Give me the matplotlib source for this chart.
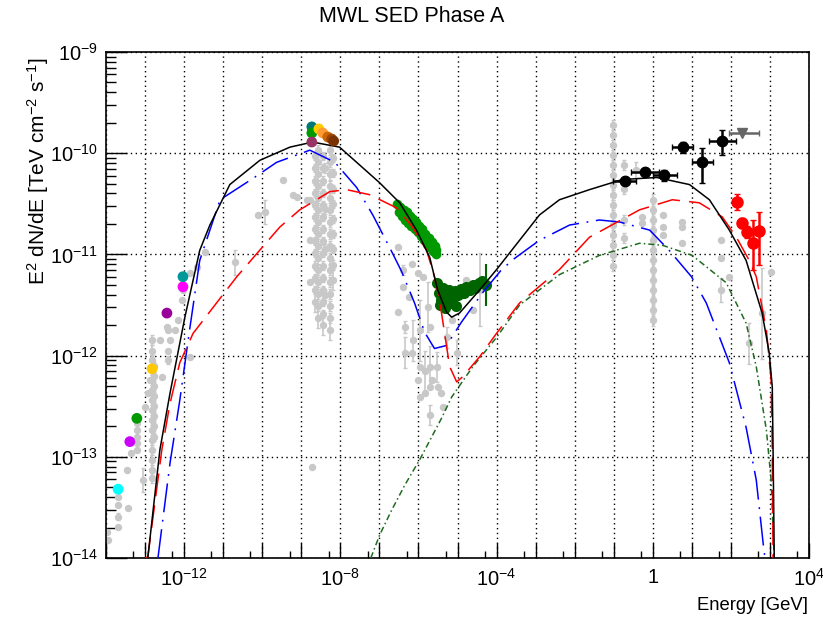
import numpy as np
import matplotlib
matplotlib.use('Agg')
import matplotlib.pyplot as plt
from matplotlib.ticker import FixedLocator, FuncFormatter, NullFormatter

plt.rcParams['font.family'] = 'Liberation Sans'
plt.rcParams['mathtext.fontset'] = 'custom'
plt.rcParams['mathtext.rm'] = 'Liberation Sans'
plt.rcParams['mathtext.it'] = 'Liberation Sans:italic'
plt.rcParams['mathtext.bf'] = 'Liberation Sans:bold'

# ---- model curves (log10 E [GeV], log10 E^2 dN/dE) ----
tot_logE = [-12.93, -12.62, -12.36, -11.98, -11.60, -11.34, -10.83, -10.06, -9.29, -8.71,
            -8.02, -7.0, -6.48, -6.05, -5.71, -5.51, -5.28, -5.15, -4.95, -4.43, -4.0,
            -3.41, -2.90, -2.39, -1.62, -0.78, 0.10, 0.94, 1.45, 1.96, 2.39, 2.80, 2.98,
            3.06, 3.08, 3.11]
tot_logF = [-14.0, -12.93, -12.37, -11.62, -10.96, -10.71, -10.31, -10.07, -9.94, -9.89,
            -9.94, -10.29, -10.49, -10.76, -11.03, -11.35, -11.57, -11.62, -11.58, -11.35,
            -11.15, -10.86, -10.61, -10.46, -10.36, -10.26, -10.24, -10.31, -10.46, -10.76,
            -11.06, -11.58, -11.97, -12.31, -12.93, -14.0]

red_logE = [-13.0, -12.93, -12.57, -12.36, -12.11, -11.77, -10.65, -9.55, -9.04, -8.27,
            -7.84, -7.25, -6.56, -6.15, -5.79, -5.59, -5.46, -5.33, -5.20, -5.02, -4.87,
            -4.43, -4.0, -3.41, -2.39, -1.62, -0.34, 0.50, 1.19, 1.78, 2.14, 2.47, 2.65,
            2.91, 3.03, 3.06, 3.08]
red_logF = [-14.0, -13.99, -12.93, -12.47, -12.07, -11.78, -11.22, -10.73, -10.56, -10.38,
            -10.36, -10.41, -10.54, -10.73, -10.96, -11.22, -11.45, -11.78, -12.11, -12.26,
            -12.21, -12.01, -11.78, -11.48, -11.15, -10.83, -10.56, -10.46, -10.49, -10.63,
            -10.83, -11.06, -11.22, -11.75, -12.24, -12.93, -14.0]

blue_logE = [-12.67, -12.36, -12.11, -11.85, -11.60, -11.08, -10.24, -9.63, -8.78, -8.14,
             -7.58, -7.17, -6.74, -6.43, -6.10, -5.84, -5.59, -5.28, -4.90, -4.36, -3.87,
             -3.54, -2.90, -2.13, -1.37, -0.85, -0.08, 0.42, 0.99, 1.37, 1.96, 2.39, 2.65,
             2.85, 2.88]
blue_logF = [-14.0, -13.06, -12.44, -11.72, -11.06, -10.46, -10.25, -10.09, -9.97, -10.09,
             -10.34, -10.61, -10.93, -11.17, -11.48, -11.77, -11.93, -11.90, -11.67, -11.38,
             -11.15, -11.04, -10.86, -10.71, -10.66, -10.68, -10.76, -10.96, -11.22, -11.48,
             -12.07, -12.71, -13.23, -13.94, -14.0]

green_logE = [-7.22, -6.99, -6.69, -6.35, -5.97, -5.41, -5.15, -4.61, -4.0, -3.41, -2.39,
              -1.37, -0.34, 0.25, 1.01, 1.88, 2.39, 2.65, 2.91, 3.03, 3.11]
green_logF = [-14.0, -13.77, -13.53, -13.28, -13.03, -12.62, -12.41, -12.11, -11.82, -11.50,
              -11.20, -11.01, -10.89, -10.91, -11.01, -11.28, -11.68, -12.11, -12.74,
              -13.23, -14.0]

# ---- archival data (grey): log10 E, log10 flux, error in dex ----
gray_logE = [-13.97, -13.95, -13.69, -13.69, -13.69, -13.69, -13.46, -13.44, -13.36, -13.21,
             -13.21, -13.21, -13.21, -13.21, -13.05, -13.0, -12.93, -12.87,
             -12.82, -12.82, -12.82, -12.82, -12.82, -12.82, -12.82, -12.82, -12.82, -12.82,
             -12.82, -12.82, -12.82, -12.82, -12.82,
             -12.62, -12.57, -12.44, -12.41, -12.36, -12.41, -12.41, -12.24, -12.16, -12.06,
             -12.03, -11.85, -11.67, -11.85, -11.47, -10.70,
             -9.93, -10.11, -9.47, -9.22, -9.12, -8.86, -8.73,
             -8.58, -8.58, -8.58, -8.58, -8.58, -8.58, -8.58, -8.58, -8.58, -8.58, -8.58,
             -8.58, -8.58, -8.58, -8.58,
             -8.27, -8.27, -8.27, -8.27, -8.27, -8.27, -8.27, -8.27, -8.27, -8.27, -8.27,
             -8.27, -8.27, -8.27, -8.27, -8.27,
             -8.40, -8.40, -8.40, -8.40, -8.78, -8.78, -8.78,
             -6.53, -6.40, -6.40, -6.53, -6.35, -6.35, -6.17, -6.23, -6.15, -6.17, -6.02,
             -5.97, -5.97, -5.89, -5.76, -5.71, -5.71, -5.66, -5.53, -5.51, -5.41, -5.28,
             -5.13, -5.02, -4.77, -4.61, -4.43, -6.02, -5.97, -5.84, -5.38, -5.71, -5.71,
             -5.84,
             -1.03, -1.03, -1.03, -1.03, -1.03, -1.03, -1.03, -1.03, -1.03, -1.03, -1.03,
             -1.03, -1.03, -1.03, -1.03,
             -0.73, -0.73, -0.73, -0.73,
             0.0, 0.0, 0.0, 0.0, 0.0, 0.0, 0.0, 0.0, 0.0, 0.0, 0.0, 0.0, 0.0,
             -0.27, -0.27, 0.25, 0.25, 0.25, 0.76, 0.76, 0.76, 1.75, 1.75, 1.75, 1.96, 2.47,
             2.80, 3.03, -0.42]
gray_logF = [-13.74, -13.82, -13.40, -13.48, -13.59, -13.69, -13.13, -13.51, -12.96, -12.93,
             -12.86, -12.80, -12.74, -12.67, -13.23, -12.51, -12.37, -12.24,
             -11.85, -11.95, -12.04, -12.14, -12.24, -12.34, -12.44, -12.54, -12.64, -12.74,
             -12.83, -12.93, -13.03, -13.13, -13.21,
             -11.85, -12.21, -11.72, -11.75, -11.85, -11.95, -12.04, -11.75, -11.65, -11.45,
             -11.35, -11.18, -11.12, -12.01, -10.98, -11.08,
             -10.58, -10.61, -10.26, -10.41, -10.43, -10.46, -13.10,
             -9.97, -10.09, -10.21, -10.32, -10.44, -10.56, -10.68, -10.80, -10.92, -11.04,
             -11.15, -11.27, -11.39, -11.51, -11.63,
             -9.97, -10.09, -10.21, -10.32, -10.44, -10.56, -10.68, -10.80, -10.92, -11.04,
             -11.15, -11.27, -11.39, -11.51, -11.63, -11.75,
             -10.15, -10.55, -10.95, -11.40, -10.46, -10.86, -11.27,
             -10.93, -11.15, -11.32, -11.57, -11.72, -11.97, -11.09, -11.42, -11.85, -11.97,
             -11.18, -11.75, -12.11, -11.22, -11.52, -11.72, -12.11, -12.24, -12.11, -12.31,
             -12.37, -11.82, -11.65, -11.97, -11.25, -11.55, -11.35, -12.24, -12.41, -12.37,
             -12.51, -12.31, -12.59, -12.15,
             -9.72, -9.82, -9.92, -10.02, -10.12, -10.22, -10.31, -10.41, -10.51, -10.61,
             -10.71, -10.81, -10.91, -11.01, -11.11,
             -10.12, -10.35, -10.66, -10.84,
             -10.46, -10.56, -10.66, -10.76, -10.86, -10.96, -11.06, -11.15, -11.25, -11.35,
             -11.45, -11.55, -11.65,
             -10.63, -10.69, -10.61, -10.73, -10.81, -10.68, -10.73, -10.89, -10.86, -11.04,
             -11.35, -11.22, -11.88, -11.58, -11.17, -10.17]
gray_err = [0, 0, 0, 0, 0.03, 0, 0, 0, 0, 0, 0, 0, 0, 0, 0.12, 0, 0, 0,
            0.05, 0.05, 0.05, 0.05, 0.05, 0.05, 0.05, 0.05, 0.05, 0.05, 0.05, 0.05, 0.05,
            0.05, 0.05,
            0, 0, 0, 0, 0, 0, 0.04, 0, 0, 0, 0, 0, 0, 0, 0, 0.12,
            0.12, 0, 0, 0, 0, 0, 0,
            0.05, 0.05, 0.05, 0.05, 0.05, 0.05, 0.05, 0.05, 0.05, 0.05, 0.05, 0.05, 0.05,
            0.05, 0.1,
            0.05, 0.05, 0.05, 0.05, 0.05, 0.05, 0.05, 0.05, 0.05, 0.05, 0.05, 0.05, 0.05,
            0.05, 0.05, 0.1,
            0.05, 0.05, 0.05, 0.05, 0, 0, 0,
            0, 0.05, 0, 0, 0.06, 0.15, 0, 0, 0.2, 0, 0, 0.3, 0, 0, 0.25, 0, 0.2, 0, 0.15,
            0, 0, 0.1, 0, 0.12, 0, 0, 0.36, 0, 0, 0, 0, 0, 0.1, 0.2,
            0.05, 0.05, 0.05, 0.05, 0.05, 0.05, 0.05, 0.05, 0.05, 0.05, 0.05, 0.05, 0.05,
            0.05, 0.05,
            0.05, 0.05, 0.05, 0.05,
            0.06, 0.06, 0.06, 0.06, 0.06, 0.06, 0.06, 0.06, 0.06, 0.06, 0.06, 0.06, 0.06,
            0, 0, 0, 0, 0, 0, 0, 0, 0, 0, 0.12, 0, 0.2, 0.45, 0, 0.08]

# extra archival optical / radio points (dense columns)
gray2_logE = [-8.65] * 13 + [-8.45] * 15 + [-8.20] * 9 + [-12.78] * 8
gray2_logF = [-10.03, -10.15, -10.27, -10.39, -10.51, -10.63, -10.75, -10.87, -10.99, -11.11,
              -11.23, -11.35, -11.47,
              -10.03, -10.15, -10.27, -10.39, -10.51, -10.63, -10.75, -10.87, -10.99, -11.11,
              -11.23, -11.35, -11.47, -11.59, -11.70,
              -10.05, -10.20, -10.35, -10.50, -10.65, -10.80, -10.95, -11.10, -11.25,
              -12.10, -12.20, -12.30, -12.40, -12.50, -12.60, -12.70, -12.80]
gray2_err = [0.04] * 12 + [0.1] + [0.04] * 14 + [0.1] + [0.04] * 8 + [0.1] + [0.04] * 8

# ---- X-ray data ----
xrt_logE = [-6.55, -6.50, -6.46, -6.42, -6.38, -6.34, -6.30, -6.26, -6.22, -6.18, -6.14,
            -6.10, -6.06, -6.02, -5.98, -5.94, -5.90, -5.86, -5.82, -5.78, -5.74, -5.70,
            -5.66, -5.62, -5.58, -5.55, -5.55]
xrt_logF = [-10.50, -10.58, -10.53, -10.62, -10.56, -10.66, -10.58, -10.69, -10.62, -10.72,
            -10.65, -10.75, -10.68, -10.78, -10.72, -10.82, -10.75, -10.86, -10.80, -10.90,
            -10.84, -10.93, -10.88, -10.97, -10.92, -11.0, -10.96]
xrt_err = [0.03] * 26 + [0.08]

nus_logE = [-5.53, -5.48, -5.43, -5.38, -5.30, -5.23, -5.15, -5.07, -5.00, -4.92, -4.84,
            -4.77, -4.69, -4.61, -4.54, -4.46, -4.38, -5.46, -5.33, -5.20, -5.05, -4.26]
nus_logF = [-11.28, -11.38, -11.45, -11.33, -11.40, -11.35, -11.43, -11.36, -11.40, -11.34,
            -11.38, -11.32, -11.35, -11.30, -11.33, -11.28, -11.26, -11.50, -11.53, -11.48,
            -11.51, -11.30]
nus_err = [0.03] * 21 + [0.21]

# ---- radio / IR / optical points ----
low_logE = [-13.69, -13.39, -13.21, -12.82, -12.44, -12.03, -12.03]
low_logF = [-13.32, -12.85, -12.62, -12.13, -11.58, -11.32, -11.22]
low_colors = ['#00ffff', '#cc00ff', '#009900', '#ffc800', '#990099', '#ff00ff', '#009999']

opt_logE = [-8.73, -8.73, -8.55, -8.45, -8.32, -8.22, -8.17, -8.73]
opt_logF = [-9.74, -9.80, -9.76, -9.80, -9.84, -9.86, -9.88, -9.89]
opt_colors = ['#007777', '#009900', '#ffcc00', '#ff9933', '#cc6600', '#994400', '#7a3300',
              '#993366']

# ---- gamma rays ----
lat_logE = [-0.70, -0.19, 0.30, 0.78, 1.27, 1.78]
lat_logF = [-10.27, -10.19, -10.22, -9.94, -10.09, -9.88]
lat_xlo = [-1.03, -0.55, 0.0, 0.48, 1.0, 1.45]
lat_xhi = [-0.42, 0.17, 0.61, 1.02, 1.53, 2.14]
lat_ylo = [-10.30, -10.22, -10.27, -10.0, -10.29, -10.02]
lat_yhi = [-10.24, -10.16, -10.17, -9.89, -9.95, -9.77]

ul_logE = [2.29]
ul_logF = [-9.80]
ul_xlo = [1.96]
ul_xhi = [2.73]

vhe_logE = [2.16, 2.29, 2.42, 2.57, 2.73]
vhe_logF = [-10.48, -10.69, -10.78, -10.89, -10.77]
vhe_ylo = [-10.56, -10.74, -10.84, -11.15, -11.10]
vhe_yhi = [-10.40, -10.64, -10.72, -10.66, -10.58]


def p(v):
    return 10.0 ** np.asarray(v, dtype=float)


def asym(lf, err):
    f = p(lf)
    e = np.asarray(err, dtype=float)
    return f, np.vstack([f - p(np.asarray(lf) - e), p(np.asarray(lf) + e) - f])


fig = plt.figure(figsize=(8.23, 6.23), dpi=100)
ax = fig.add_axes([106 / 823, 65 / 623, 703 / 823, 506 / 623])
ax.set_xscale('log')
ax.set_yscale('log')
ax.set_xlim(1e-14, 1e4)
ax.set_ylim(1e-14, 1e-9)

# grey archival data
for le_, lf_, er_ in [(gray_logE, gray_logF, gray_err), (gray2_logE, gray2_logF, gray2_err)]:
    gf, gerr = asym(lf_, er_)
    ax.errorbar(p(le_), gf, yerr=gerr, fmt='o', ms=4.3, color='#c8c8c8', mec='#c8c8c8',
                ecolor='#c8c8c8', elinewidth=1.2, capsize=1.5, zorder=1)

# X-ray data
xf, xerr = asym(xrt_logF, xrt_err)
ax.errorbar(p(xrt_logE), xf, yerr=xerr, fmt='o', ms=7, color='#009900', mew=0,
            ecolor='#009900', elinewidth=1.5, capsize=1.5, zorder=2)
nf, nerr = asym(nus_logF, nus_err)
ax.errorbar(p(nus_logE), nf, yerr=nerr, fmt='o', ms=8, color='#006400', mew=0,
            ecolor='#006400', elinewidth=1.5, capsize=1.5, zorder=2)

# models
ax.plot(p(green_logE), p(green_logF), color='#1f6b1f', lw=1.1, dashes=(4, 2, 1, 2), zorder=3)
ax.plot(p(blue_logE), p(blue_logF), color='#0000ff', lw=1.1, dashes=(19, 5, 1.2, 5), zorder=3)
ax.plot(p(red_logE), p(red_logF), color='#ff0000', lw=1.1, dashes=(15, 6), zorder=3)
ax.plot(p(tot_logE), p(tot_logF), color='black', lw=1.1, zorder=3)

# radio / optical points
ax.scatter(p(low_logE), p(low_logF), s=60, c=low_colors, linewidths=0, zorder=4)
ax.scatter(p(opt_logE), p(opt_logF), s=60, c=opt_colors, linewidths=0, zorder=4)

# gamma-ray points
lf = p(lat_logF)
le = p(lat_logE)
ax.errorbar(le, lf, xerr=[le - p(lat_xlo), p(lat_xhi) - le],
            yerr=[lf - p(lat_ylo), p(lat_yhi) - lf], fmt='o', ms=7.5, color='black',
            elinewidth=1.8, capsize=2, zorder=5)
ue = p(ul_logE)
ax.errorbar(ue, p(ul_logF), xerr=[ue - p(ul_xlo), p(ul_xhi) - ue], fmt='v', ms=7,
            color='#666666', elinewidth=1.8, capsize=2, zorder=5)
vf = p(vhe_logF)
ax.errorbar(p(vhe_logE), vf, yerr=[vf - p(vhe_ylo), p(vhe_yhi) - vf], fmt='o', ms=8,
            color='#ff0000', elinewidth=1.8, capsize=2, zorder=5)

# axes styling
xmaj = [10.0 ** k for k in range(-14, 5)]
xmin = [5 * 10.0 ** k for k in range(-14, 4)]
ax.xaxis.set_major_locator(FixedLocator(xmaj))
ax.xaxis.set_minor_locator(FixedLocator(xmin))
xlab = {-12: r'$\mathdefault{10^{-12}}$', -8: r'$\mathdefault{10^{-8}}$',
        -4: r'$\mathdefault{10^{-4}}$', 0: '1', 4: r'$\mathdefault{10^{4}}$'}
ax.xaxis.set_major_formatter(FuncFormatter(lambda v, pos: xlab.get(int(round(np.log10(v))), '')))
ax.xaxis.set_minor_formatter(NullFormatter())

ymaj = [10.0 ** k for k in range(-14, -8)]
ymin = [m * 10.0 ** k for k in range(-14, -9) for m in range(2, 10)]
ax.yaxis.set_major_locator(FixedLocator(ymaj))
ax.yaxis.set_minor_locator(FixedLocator(ymin))
ax.yaxis.set_major_formatter(FuncFormatter(
    lambda v, pos: r'$\mathdefault{10^{%d}}$' % int(round(np.log10(v)))))
ax.yaxis.set_minor_formatter(NullFormatter())

ax.tick_params(which='both', direction='in', top=False, right=False, width=1, labelsize=14.5)
ax.tick_params(axis='x', which='major', length=10.8, pad=7)
ax.tick_params(axis='x', which='minor', length=5.4)
ax.tick_params(axis='y', which='major', length=15, pad=6)
ax.tick_params(axis='y', which='minor', length=7.5)
for s in ax.spines.values():
    s.set_linewidth(1.2)

ax.grid(True, which='major', color='black', linestyle=(0, (1, 2.5)), linewidth=1.0)
ax.set_axisbelow(True)

fig.text(0.5, 1 - 17 / 623, 'MWL SED Phase A', ha='center', va='center', fontsize=15.5)
fig.text(38 / 823, 1 - 58 / 623, r'E$^{2}$ dN/dE [TeV cm$^{-2}$ s$^{-1}$]', rotation=90,
         ha='center', va='top', fontsize=15)
fig.text(808 / 823, 1 - 606 / 623, 'Energy [GeV]', ha='right', va='center', fontsize=13.3)

fig.savefig('out.png', dpi=100)
